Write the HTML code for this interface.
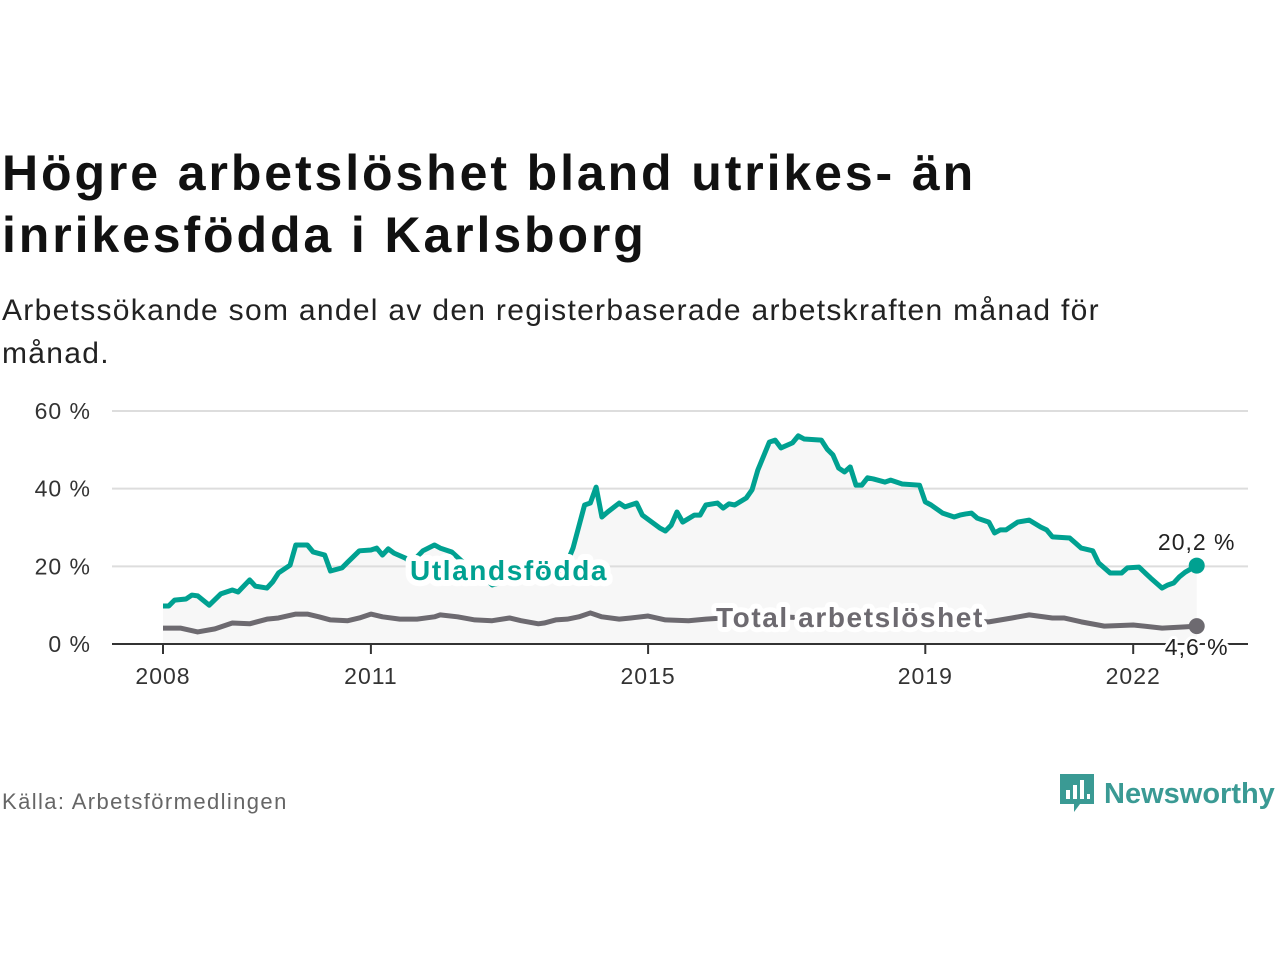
<!DOCTYPE html>
<html><head><meta charset="utf-8">
<style>
body{margin:0;background:#fff;font-family:"Liberation Sans",sans-serif;}
#wrap{position:relative;width:1280px;height:960px;overflow:hidden;}
h1{position:absolute;left:2px;top:142px;margin:0;font-size:50px;line-height:62px;font-weight:bold;color:#111;letter-spacing:2.9px}
.sub{position:absolute;left:2px;top:289px;margin:0;font-size:30px;line-height:43px;color:#222;width:1200px;letter-spacing:1.3px}
.src{position:absolute;left:2px;top:789px;font-size:22px;color:#666;letter-spacing:1.4px}
.logo{position:absolute;left:1058px;top:772px;display:flex;align-items:center;gap:8px;color:#3a9a94;font-size:29px;font-weight:bold}
</style></head><body>
<div id="wrap">
<h1>Högre arbetslöshet bland utrikes- än<br>inrikesfödda i Karlsborg</h1>
<p class="sub">Arbetssökande som andel av den registerbaserade arbetskraften månad för månad.</p>
<svg id="chart" width="1280" height="960" style="position:absolute;left:0;top:0"></svg>
<div class="src">Källa: Arbetsförmedlingen</div>
<div class="logo">
<svg width="38" height="44" viewBox="0 0 38 44"><path d="M2 2h34v30H22l-6 8v-8H2z" fill="#3a9a94"/><rect x="8" y="18" width="4" height="9" fill="#fff"/><rect x="15" y="13" width="4" height="14" fill="#fff"/><rect x="22" y="8" width="4" height="19" fill="#fff"/><rect x="29" y="22" width="3" height="5" fill="#fff"/></svg>
<span>Newsworthy</span></div>
</div>
<script>
const yTicks=[0,20,40,60];
const xTickYears=[2008,2011,2015,2019,2022];
const foreignMonths=[0,1,2,4,5,6,8,10,12,13,15,16,18,19,20,22,23,25,26,28,29,31,32,34,36,37,38,39,40,42,43,45,47,48,50,52,55,57,60,63,66,69,70,71,73,74,75,76,77,79,80,82,83,86,87,88,89,90,92,93,94,96,97,98,99,101,102,103,105,106,107,109,110,111,114,115,116,117,118,119,120,121,122,123,125,126,128,131,132,133,135,137,138,139,140,141,143,144,145,146,148,150,152,153,154,157,158,159,161,162,164,166,167,169,171,173,174,175,176,177,179];
const foreignValues=[9.8,9.8,11.3,11.6,12.6,12.4,10.0,12.9,13.9,13.4,16.5,14.9,14.4,16.0,18.3,20.3,25.5,25.5,23.7,22.9,18.8,19.6,21.1,24.0,24.2,24.7,22.9,24.5,23.4,22.1,20.9,24.0,25.5,24.7,23.7,21,18,15.2,16.5,17.5,18,19,21,24.7,35.8,36.3,40.4,32.7,34.0,36.3,35.3,36.3,33.2,29.9,29.1,30.6,34.0,31.4,33.2,33.2,35.8,36.3,35.0,36.1,35.8,37.6,39.7,44.8,52.0,52.5,50.5,51.8,53.6,52.8,52.5,50.2,48.7,45.3,44.3,45.6,40.9,40.9,42.8,42.5,41.7,42.2,41.2,40.9,36.6,35.8,33.7,32.7,33.2,33.5,33.7,32.4,31.4,28.6,29.4,29.4,31.4,31.9,30.1,29.4,27.6,27.3,26.0,24.7,24.0,20.9,18.3,18.3,19.6,19.8,17.0,14.4,15.2,15.7,17.3,18.5,20.2];
const totalMonths=[0,3,6,9,12,15,18,20,23,25,27,29,32,34,36,38,41,44,47,48,51,54,57,60,62,65,66,68,70,72,74,76,79,81,84,87,91,94,98,104,110,116,122,128,134,140,143,147,150,154,156,159,163,168,173,177,179];
const totalValues=[4.1,4.1,3.1,3.9,5.4,5.2,6.4,6.7,7.7,7.7,7.0,6.2,6.0,6.7,7.7,7.0,6.4,6.4,7.0,7.5,7.0,6.2,6.0,6.7,6.0,5.2,5.4,6.2,6.4,7.0,8.0,7.0,6.4,6.7,7.2,6.2,6.0,6.4,6.8,7.2,6.8,6.3,6.0,5.8,5.9,5.9,5.7,6.7,7.5,6.7,6.7,5.7,4.6,4.9,4.1,4.4,4.6];

const NS='http://www.w3.org/2000/svg';
const svg=document.getElementById('chart');
const x=m=>163+m*69.3/12;
const y=v=>644-v*3.883;
function mk(t,a){const e=document.createElementNS(NS,t);for(const k in a)e.setAttribute(k,a[k]);svg.appendChild(e);return e;}

let fp='M'+x(foreignMonths[0])+','+y(0);
foreignMonths.forEach((m,i)=>fp+='L'+x(m)+','+y(foreignValues[i]));
fp+='L'+x(foreignMonths[foreignMonths.length-1])+','+y(0)+'Z';
const fill=mk('path',{d:fp,fill:'#f7f7f7'});



yTicks.forEach(v=>{
  if(v>0){const g=mk('line',{x1:112,x2:1248,y1:y(v),y2:y(v),stroke:'#ddd','stroke-width':2});
  
  }
  const t=mk('text',{x:91,y:y(v)+8,'text-anchor':'end','font-size':23,fill:'#333','letter-spacing':1});
  t.textContent=v+' %';
  
  
});
const ax=mk('line',{x1:112,x2:1248,y1:644,y2:644,stroke:'#333','stroke-width':2});


xTickYears.forEach(yr=>{
  const m=(yr-2008)*12;
  const tk=mk('line',{x1:x(m),x2:x(m),y1:644,y2:654,stroke:'#333','stroke-width':2});
  
  
  const t=mk('text',{x:x(m),y:684,'text-anchor':'middle','font-size':23,fill:'#333','letter-spacing':1});
  t.textContent=yr;
  
  
});
function line(ms,vs,c,name){
  const d=ms.map((m,i)=>(i?'L':'M')+x(m)+','+y(vs[i])).join('');
  const p=mk('path',{d:d,fill:'none',stroke:c,'stroke-width':5,'stroke-linejoin':'round'});
  
  
  const last=ms.length-1;
  const dot=mk('circle',{cx:x(ms[last]),cy:y(vs[last]),r:8,fill:c});
  
  
}
line(totalMonths,totalValues,'#6d6a70','total-line');
line(foreignMonths,foreignValues,'#00a191','foreign-born-line');

function label(tx,xx,yy,c,size,w,anchor,ls,sw,name){
  const t=mk('text',{x:xx,y:yy,'text-anchor':anchor,'font-size':size,'font-weight':w,fill:c,stroke:'#fff','stroke-width':sw,'paint-order':'stroke','stroke-linejoin':'round','letter-spacing':ls});
  t.textContent=tx;
  
  
}
label('Utlandsfödda',410,580,'#00a191',28,'bold','start',1.6,12,'foreign-born-label');
label('Total arbetslöshet',716,627,'#6d6a70',28,'bold','start',1.6,10,'total-label');
label('20,2 %',x(179),550,'#222',23,'normal','middle',1,6,'foreign-end-value');
label('4,6 %',x(179),655,'#222',23,'normal','middle',1,6,'total-end-value');
</script>
</body></html>
